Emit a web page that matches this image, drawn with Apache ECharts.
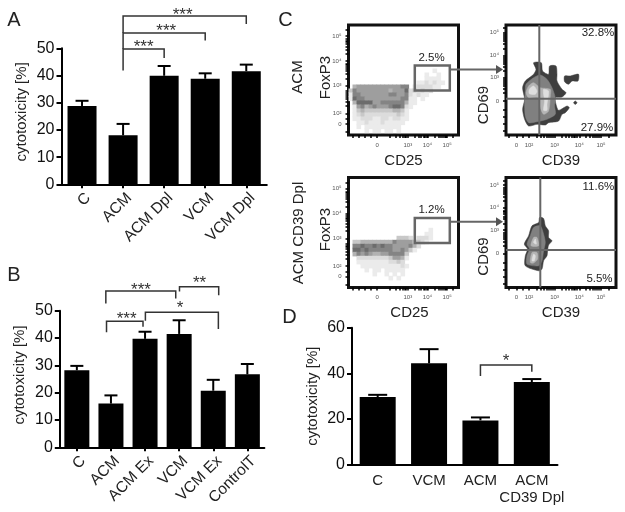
<!DOCTYPE html>
<html><head><meta charset="utf-8">
<style>html,body{margin:0;padding:0;background:#fff}#c{width:625px;height:512px}</style>
<script src="https://cdn.jsdelivr.net/npm/echarts@6/dist/echarts.min.js"></script>
</head><body><div id="c"></div>
<script>
// ---------- Bar panels ----------
const catsA = ['C','ACM','ACM Dpl','VCM','VCM Dpl'];
const valsA = [28.8,18,39.9,38.8,41.6];
const errA  = [30.7,22.2,43.5,40.8,44];
const catsB = ['C','ACM','ACM Ex','VCM','VCM Ex','ControlT'];
const valsB = [28.2,16,39.7,41.5,20.7,26.7];
const errB  = [29.8,19,42.3,46.5,24.7,30.5];
const catsD = ['C','VCM','ACM','ACM\nCD39 Dpl'];
const valsD = [29.6,44.4,19.4,36.2];
const errD  = [30.6,50.6,20.7,37.5];
// bracket: [from, to, top, leftEnd, rightEnd, starX, starY]
const bracketsA = [[1,2,49.7,41.8,46.4,1.5,52],[1,3,55.6,49.7,52.9,2.05,57.6],[1,4,61.9,55.6,58.9,2.45,63.7]];
const starsA = ['***','***','***'];
const bracketsB = [[0.85,2.9,57.2,52.6,54.5,1.88,59],[3.01,4.16,58.8,57,55.7,3.6,61.6],[0.87,1.94,46.1,42.1,44.1,1.46,48.3],[2.01,4.15,49.4,46.3,43.3,3.03,52.2]];
const starsB = ['***','**','***','*'];
const bracketsD = [[2,3,43.7,38.8,40.7,2.5,47]];
const starsD = ['*'];

// ---------- Flow plots (density rows, darkness 0-7) ----------
const densityTop = [
 "","","000000000000000000000100","00000000000000000001001","00000000000000000001111",
 "000000000000000001121211",
 "045555555555566012222110",
 "3655555555455572323220",
 "166555555566556212110",
 "176655555555566110100",
 "047777556666664110",
 "015645655567762100",
 "0134333333344310",
 "0123222222223210",
 "0112221122122110",
 "0011211121111100",
 "0010111111111000",
 "0000101101101000"];
const densityBottom = [
 "","","","000000000000000000001","00000000000000000001100",
 "000000000000333202221",
 "03344444444655553321",
 "0667667676655556420",
 "07767666666556531",
 "0465654455666630",
 "002222222235541",
 "00111111112232",
 "0001111111111210",
 "00001011011111",
 "000000100101010",
 "0000000000101"];
const greys = ['#ffffff','#ebebeb','#dcdcdc','#c8c8c8','#b2b2b2','#9e9e9e','#848484','#6c6c6c'];

const contourTop = [
 {c:'#3e3e3e',p:[[27.6,72.3],[35.3,72.3],[36.6,64],[42.6,60.7],[43.6,69],[50,69],[51,60.7],[51,54],[56,45.7],[60,42.3],[56,38],[49.3,37.3],[50,30.7],[52.6,24.7],[61,29],[63.3,27.3],[59.3,22.3],[56,20.7],[52.6,14],[42.6,12.3],[39.3,10],[31,10.7],[22.6,9],[18.6,15.7],[16.6,25.7],[18.6,35.7],[16.6,47.3],[19.3,54],[27.6,60.7],[30,65.7]]},
 {c:'#3e3e3e',p:[[58.6,59],[64.3,59],[67.6,60],[72.6,60.7],[72,54],[66,54],[62.6,50.7],[58.6,53.3]]},
 {c:'#3e3e3e',p:[[67.6,32.3],[69.3,34],[71,32.3],[69.3,30.6]]},
 {c:'#808080',p:[[20,50.7],[27.6,57.3],[34.3,60],[41,55.7],[46,47.3],[49.3,37.3],[48.6,29],[49.3,20.7],[41,15.7],[31,13.3],[22.6,12.3],[19.3,19],[18.6,34],[19.3,44]]},
 {c:'#b5b5b5',p:[[22.6,49],[27.6,52.3],[34.3,47.3],[44.3,45.7],[44.3,39],[42.6,24],[37.6,20.7],[34.3,27.3],[32.6,37.3],[22.6,37.3],[20,42.3]]},
 {c:'#dedede',p:[[23.3,45.7],[27.6,49],[31,44],[29.3,40.7],[23.3,41.3]]},
 {c:'#dedede',p:[[37.6,45.7],[42.6,44],[41,30.7],[41,24.7],[37.6,24.7],[38.6,34],[37.6,40.7]]}
];
const contourBottom = [
 {c:'#3e3e3e',p:[[33.6,70],[37.6,69],[39.3,61.7],[42.6,56.7],[42.6,50],[46,46.7],[42.6,42.4],[41.6,36.7],[41,31.7],[37.6,26.7],[36,18.4],[32.6,16.7],[19.3,21.7],[19.3,31.7],[21.6,38.4],[18.3,43.4],[22.6,51.7],[26,61.7],[32.6,65]]},
 {c:'#808080',p:[[21,43.4],[24.3,51.7],[27.6,60],[34.3,61.7],[37.6,53.4],[39.3,45],[37.6,36.7],[36,26.7],[32.6,21.7],[21,23.4],[21,31.7],[23.6,38.4]]},
 {c:'#b5b5b5',p:[[25,41.7],[27.6,50],[31,50],[32.6,41.7]]},
 {c:'#b5b5b5',p:[[24.3,25],[26,35],[31,35],[31.6,28.4],[27.6,24.4]]},
 {c:'#dedede',p:[[27.6,45],[29.3,48.4],[30.3,43.4]]},
 {c:'#dedede',p:[[26,26.7],[27.6,33.4],[29.3,31.7],[28.3,26.7]]}
];
const gateTop = [66.3,101.3,44.5,69.5];
const gateBottom = [66.3,101.3,44.4,69.4];
const quadTop = [33.3,36.3];
const quadBottom = [34.3,37.4];

// axis ticks of the flow plots
const leftXLabels = [28.7,59.3,79,98.7], leftXText = ['0','10³','10⁴','10⁵'];
const leftXTicks = [4,10,16,22,28.7,41,47,51,54,56,57.5,59.3,66,70,72.5,75,76.5,78,79,86,90,92.5,94.5,96,97.5,98.7,104];
const leftYLabels = [10.8,21.5,49.2,73.8,98.8], leftYText = ['0','10²','10³','10⁴','10⁵'];
const leftYTicks = [3,10.8,16,21.5,29,33,36,38.5,40.5,42,44,49.2,56.6,60.9,64,66.4,68.4,70,71.4,73.8,81,85.5,88.5,91,93,94.6,96,98.8,105];
const rightXLabels = [10.3,23,48.6,73.3,95], rightXText = ['0','10²','10³','10⁴','10⁵'];
const rightXTicks = [3,10.3,17,23,31,35,38,41,43,45,46.5,48.6,56,60,63,65.5,67.5,69,70.5,73.3,80,84,87,89,91,92.5,95,103];
const rightYLabels = [34,57.3,79.7,102.3], rightYText = ['0','10³','10⁴','10⁵'];
const rightYTicks = [4,11,18,25,34,42,46,49,51,53,55,57.3,64,68.5,71,73.5,75.5,77,79.7,86.5,91,94,96,98,100,102.3,107];

// ---------- Builders ----------
const FONT = '"Liberation Sans", Arial, sans-serif';
const grid = [], xAxis = [], yAxis = [], series = [];

function barPanel(o){
  const g = grid.length;
  grid.push({left:o.left, top:o.top, width:o.width, height:o.height});
  const n = o.cats.length;
  xAxis.push({gridIndex:g, type:'category', data:o.cats,
    axisLine:{onZero:false,lineStyle:{color:'#000',width:2}},
    axisTick:{show:o.xTicks, alignWithLabel:true, length:4, lineStyle:{color:'#000',width:2}},
    axisLabel:{interval:0, rotate:o.rotate, margin:o.labelMargin, verticalAlign:o.rotate?'top':undefined, fontFamily:FONT, fontSize:o.catFont, color:'#222', lineHeight:17.5}});
  const xv = xAxis.length;
  xAxis.push({gridIndex:g, type:'value', show:false, min:-0.5, max:n-0.5});
  const y = yAxis.length;
  yAxis.push({gridIndex:g, type:'value', min:0, max:o.max, interval:o.step,
    name:'cytotoxicity [%]', nameLocation:'middle', nameGap:o.nameGap, nameRotate:90, nameMoveOverlap:false,
    nameTextStyle:{fontFamily:FONT, fontSize:15, color:'#222', padding:o.namePad},
    splitLine:{show:false},
    axisLine:{show:true,onZero:false,lineStyle:{color:'#000',width:2}},
    axisTick:{show:true,length:5,lineStyle:{color:'#000',width:2}},
    axisLabel:{margin:7, fontFamily:FONT, fontSize:16, color:'#111'}});
  series.push({type:'bar', xAxisIndex:xv-1, yAxisIndex:y, data:o.vals, barWidth:o.barWidth, itemStyle:{color:'#000'}, silent:true, z:2});
  series.push({type:'custom', xAxisIndex:xv, yAxisIndex:y, silent:true, z:3,
    data:o.errs.map((e,i)=>[i,o.vals[i],e]),
    renderItem:(p,api)=>{
      const a=api.coord([api.value(0),api.value(1)]), b=api.coord([api.value(0),api.value(2)]);
      const st={stroke:'#000',lineWidth:2,fill:null};
      return {type:'group',children:[
        {type:'line',shape:{x1:a[0],y1:a[1],x2:b[0],y2:b[1]},style:st},
        {type:'line',shape:{x1:b[0]-o.cap,y1:b[1],x2:b[0]+o.cap,y2:b[1]},style:st}]};
    }});
  series.push({type:'custom', xAxisIndex:xv, yAxisIndex:y, silent:true, z:4, clip:false,
    data:o.brackets,
    renderItem:(p,api)=>{
      const v=i=>api.value(i);
      const l=api.coord([v(0),v(3)]), tl=api.coord([v(0),v(2)]), tr=api.coord([v(1),v(2)]), r=api.coord([v(1),v(4)]), s=api.coord([v(5),v(6)]);
      return {type:'group',children:[
        {type:'polyline',shape:{points:[l,tl,tr,r]},style:{stroke:'#333',lineWidth:1.5,fill:null}},
        {type:'text',x:s[0],y:s[1]+4,style:{text:o.stars[p.dataIndex],align:'center',verticalAlign:'middle',fontFamily:FONT,fontSize:17,fill:'#333'}}]};
    }});
}

function flowPanel(o){
  const g = grid.length;
  grid.push({left:o.left, top:o.top, width:110, height:110, show:true, borderColor:'#111', borderWidth:3, backgroundColor:'#fff'});
  const lab = (vals,txt)=>({customValues:vals, margin:7, fontFamily:FONT, fontSize:6, color:'#555',
      formatter:v=>txt[vals.indexOf(v)]});
  const x = xAxis.length;
  xAxis.push({gridIndex:g, type:'value', min:0, max:110, splitLine:{show:false},
    name:o.xName, nameLocation:'middle', nameGap:18, nameMoveOverlap:false, nameTextStyle:{fontFamily:FONT,fontSize:15,color:'#222',padding:o.xNamePad},
    axisLine:{show:false,onZero:false}, axisTick:{show:true,length:3,customValues:o.xTicks,lineStyle:{color:'#000',width:1.5}},
    axisLabel:lab(o.xLabels,o.xText)});
  const y = yAxis.length;
  yAxis.push({gridIndex:g, type:'value', min:0, max:110, splitLine:{show:false},
    name:o.yName, nameLocation:'middle', nameGap:15, nameRotate:90, nameMoveOverlap:false, nameTextStyle:{fontFamily:FONT,fontSize:15,color:'#222',padding:o.yNamePad},
    axisLine:{show:false,onZero:false}, axisTick:{show:true,length:3,customValues:o.yTicks,lineStyle:{color:'#000',width:1.5}},
    axisLabel:lab(o.yLabels,o.yText)});
  if(o.density){
    const cells=[];
    o.density.forEach((row,j)=>{ for(let i=0;i<row.length;i++){ const d=+row[i]; if(d>0) cells.push([2+4*i, o.densityStart-4*j, d]); } });
    series.push({type:'custom',xAxisIndex:x,yAxisIndex:y,silent:true,z:1,data:cells,
      renderItem:(p,api)=>{
        const c=api.coord([api.value(0),api.value(1)]), s=api.size([4,4]);
        return {type:'rect',shape:{x:c[0]-s[0]/2,y:c[1]-s[1]/2,width:s[0]+0.6,height:s[1]+0.6},style:{fill:greys[api.value(2)]}};
      }});
    series.push({type:'custom',xAxisIndex:x,yAxisIndex:y,silent:true,z:3,data:[o.gate],
      renderItem:(p,api)=>{
        const a=api.coord([api.value(0),api.value(3)]), b=api.coord([api.value(1),api.value(2)]);
        return {type:'rect',shape:{x:a[0],y:a[1],width:b[0]-a[0],height:b[1]-a[1]},style:{fill:null,stroke:'#666',lineWidth:2.5}};
      }});
  }
  if(o.contour){
    series.push({type:'custom',xAxisIndex:x,yAxisIndex:y,silent:true,z:1,data:o.contour.map((c,i)=>[i]),
      renderItem:(p,api)=>{
        const c=o.contour[api.value(0)];
        return {type:'polygon',shape:{smooth:0.25,points:c.p.map(q=>api.coord(q))},style:{fill:c.c,stroke:c.c,lineWidth:0.5}};
      }});
    series.push({type:'custom',xAxisIndex:x,yAxisIndex:y,silent:true,z:3,data:[o.quad],
      renderItem:(p,api)=>{
        const vx=api.value(0), hy=api.value(1);
        const st={stroke:'#666',lineWidth:2,fill:null};
        const a=api.coord([vx,0]),b=api.coord([vx,110]),c=api.coord([0,hy]),d=api.coord([110,hy]);
        return {type:'group',children:[
          {type:'line',shape:{x1:a[0],y1:a[1],x2:b[0],y2:b[1]},style:st},
          {type:'line',shape:{x1:c[0],y1:c[1],x2:d[0],y2:d[1]},style:st}]};
      }});
  }
  series.push({type:'custom',xAxisIndex:x,yAxisIndex:y,silent:true,z:5,data:o.pcts.map(t=>[t[0],t[1]]),
    renderItem:(p,api)=>{
      const t=o.pcts[p.dataIndex], c=api.coord([api.value(0),api.value(1)]);
      return {type:'text',x:c[0],y:c[1],style:{text:t[2],align:t[3],verticalAlign:'middle',fontFamily:FONT,fontSize:11.5,fill:'#222'}};
    }});
}

barPanel({left:61.5,top:48.3,width:205.3,height:136,cats:catsA,vals:valsA,errs:errA,max:50,step:10,barWidth:29,cap:6.5,
  brackets:bracketsA,stars:starsA,rotate:45,xTicks:true,labelMargin:5,catFont:15.5,nameGap:32,namePad:[0,0,0,9]});
barPanel({left:59.8,top:310.7,width:204.6,height:136.6,cats:catsB,vals:valsB,errs:errB,max:50,step:10,barWidth:25,cap:6.5,
  brackets:bracketsB,stars:starsB,rotate:45,xTicks:true,labelMargin:5,catFont:15.5,nameGap:32,namePad:[0,0,0,8]});
barPanel({left:352,top:327.7,width:205.5,height:137,cats:catsD,vals:valsD,errs:errD,max:60,step:20,barWidth:36,cap:9.5,
  brackets:bracketsD,stars:starsD,rotate:0,xTicks:false,labelMargin:7,catFont:15,nameGap:32,namePad:[0,0,0,0]});

flowPanel({left:348.5,top:25,xName:'CD25',yName:'FoxP3',xNamePad:[0,0,0,0],yNamePad:[0,0,0,5],
  xLabels:leftXLabels,xText:leftXText,xTicks:leftXTicks,yLabels:leftYLabels,yText:leftYText,yTicks:leftYTicks,
  density:densityTop,densityStart:72.5,gate:gateTop,pcts:[[83,77.2,'2.5%','center']]});
flowPanel({left:506,top:25,xName:'CD39',yName:'CD69',xNamePad:[0,0,0,0],yNamePad:[0,50,0,0],
  xLabels:rightXLabels,xText:rightXText,xTicks:rightXTicks,yLabels:rightYLabels,yText:rightYText,yTicks:rightYTicks,
  contour:contourTop,quad:quadTop,pcts:[[108.3,101.7,'32.8%','right'],[107.3,7.3,'27.9%','right']]});
flowPanel({left:348.5,top:177.5,xName:'CD25',yName:'FoxP3',xNamePad:[0,0,0,12],yNamePad:[0,0,0,6],
  xLabels:leftXLabels,xText:leftXText,xTicks:leftXTicks,yLabels:leftYLabels,yText:leftYText,yTicks:leftYTicks,
  density:densityBottom,densityStart:69.7,gate:gateBottom,pcts:[[83,77.7,'1.2%','center']]});
flowPanel({left:506,top:177.5,xName:'CD39',yName:'CD69',xNamePad:[0,0,0,0],yNamePad:[0,48,0,0],
  xLabels:rightXLabels,xText:rightXText,xTicks:rightXTicks,yLabels:rightYLabels,yText:rightYText,yTicks:rightYTicks,
  contour:contourBottom,quad:quadBottom,pcts:[[108.3,101,'11.6%','right'],[106.6,8.7,'5.5%','right']]});

// ---------- Annotations ----------
const txt=(s,x,y,size,rot)=>({type:'text',x,y,rotation:rot||0,z:20,style:{text:s,align:'center',verticalAlign:'middle',fontFamily:FONT,fontSize:size,fill:'#222'}});
const arrow=(x1,x2,y)=>[
  {type:'line',z:20,shape:{x1,y1:y,x2:x2-6,y2:y},style:{stroke:'#666',lineWidth:2}},
  {type:'polygon',z:20,shape:{points:[[x2-7,y-4.5],[x2,y],[x2-7,y+4.5]]},style:{fill:'#555'}}];
const graphic=[
  txt('A',14,20,20),txt('B',14,275,20),txt('C',285.5,20,20),txt('D',289.5,317,20),
  txt('ACM',298,77,15,Math.PI/2),txt('ACM CD39 Dpl',299,233,15,Math.PI/2),
  ...arrow(450,503,69.5),...arrow(450,503,221.7)
];

const chart=echarts.init(document.getElementById('c'),null,{renderer:'canvas'});
chart.setOption({animation:false,backgroundColor:'#fff',grid,xAxis,yAxis,series,graphic:{elements:graphic}});
</script></body></html>
